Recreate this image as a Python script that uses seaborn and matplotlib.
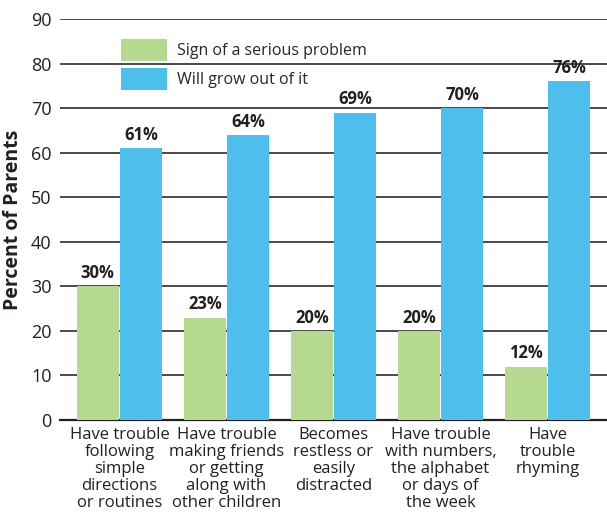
import matplotlib
matplotlib.use("Agg")
import matplotlib.pyplot as plt
import seaborn as sns
import pandas as pd

categories = ["Have trouble\nfollowing\nsimple\ndirections\nor routines",
              "Have trouble\nmaking friends\nor getting\nalong with\nother children",
              "Becomes\nrestless or\neasily\ndistracted",
              "Have trouble\nwith numbers,\nthe alphabet\nor days of\nthe week",
              "Have\ntrouble\nrhyming"]
serious = [30, 23, 20, 20, 12]
grow_out = [61, 64, 69, 70, 76]
series_names = ["Sign of a serious problem", "Will grow out of it"]
yticks = [0, 10, 20, 30, 40, 50, 60, 70, 80, 90]

df = pd.DataFrame({
    "cat": categories * 2,
    "val": serious + grow_out,
    "series": [series_names[0]] * 5 + [series_names[1]] * 5,
})

sns.set_style("white")
plt.rcParams['font.family'] = ['Open Sans', 'DejaVu Sans']

fig = plt.figure(figsize=(6.07, 5.20), dpi=100)
ax = fig.add_axes([0.0988, 0.1923, 0.9012, 0.7712])

palette = {series_names[0]: "#b5d98f", series_names[1]: "#4dbfed"}
sns.barplot(data=df, x="cat", y="val", hue="series", palette=palette,
            width=0.81, gap=0.03, ax=ax, saturation=1, zorder=3, linewidth=0)

for cont in ax.containers:
    labels = [f"{int(v)}%" for v in cont.datavalues]
    ax.bar_label(cont, labels=labels, padding=3, fontsize=12, fontweight="bold", color="#231f20")

ax.set_ylim(0, 90)
ax.set_xlim(-0.556, 4.556)
ax.set_yticks(yticks)
ax.yaxis.grid(True, color="#4a4a4a", linewidth=1.4, zorder=0)
ax.set_axisbelow(True)
for s in ["top", "right", "left"]:
    ax.spines[s].set_visible(False)
ax.spines["bottom"].set_color("#231f20")
ax.spines["bottom"].set_linewidth(1.6)
ax.tick_params(axis="y", length=0, pad=6, labelsize=13, labelcolor="#231f20")
ax.tick_params(axis="x", length=0, pad=5, labelsize=12, labelcolor="#231f20")
for t in ax.get_xticklabels():
    t.set_linespacing(1.08)
ax.set_xlabel("")
ax.set_ylabel("Percent of Parents", fontsize=14, fontweight="bold", color="#231f20", labelpad=6)

leg = ax.legend(loc="upper left", bbox_to_anchor=(0.1, 0.965), frameon=False,
                fontsize=11.5, handlelength=2.9, handleheight=1.7, handletextpad=0.6,
                labelspacing=0.45, borderaxespad=0)

fig.savefig("out.png", dpi=100)
